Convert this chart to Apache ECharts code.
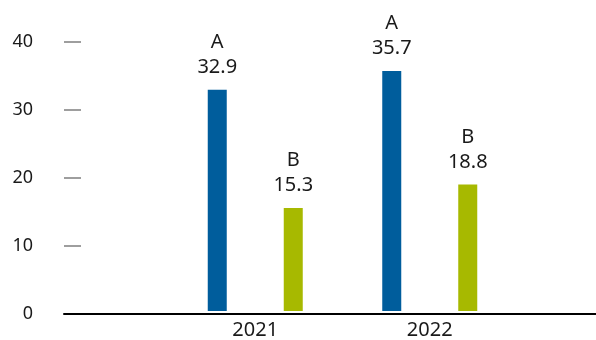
<!DOCTYPE html>
<html>
<head>
<meta charset="utf-8">
<script src="https://cdn.jsdelivr.net/npm/echarts@6/dist/echarts.min.js"></script>
<style>
  html, body { margin: 0; padding: 0; background: #fff; }
  #chart { width: 596px; height: 340px; }
</style>
</head>
<body>
<div id="chart"></div>
<script>
const years = ['2021', '2022'];
const seriesA = [32.9, 35.7];
const seriesB = [15.3, 18.8];
const yTicks = [0, 10, 20, 30, 40];

const FONT = 'Noto Sans';
const TEXT = '#1a1a1a';

const chart = echarts.init(document.getElementById('chart'), null, { renderer: 'canvas' });

function barLabel(name) {
  return {
    show: true,
    position: 'top',
    distance: 10,
    fontFamily: FONT,
    fontSize: 20,
    lineHeight: 25,
    color: TEXT,
    formatter: p => name + '\n' + p.value
  };
}

chart.setOption({
  animation: false,
  // grid 0 carries the value axis and the full-width baseline,
  // grid 1 holds the two year groups
  grid: [
    { left: 64, right: 0, top: 42, bottom: 26 },
    { left: 168, right: 79, top: 42, bottom: 26 }
  ],
  xAxis: [
    {
      gridIndex: 0, type: 'category', data: [''],
      axisLine: { show: true, lineStyle: { color: '#000', width: 2 } },
      axisTick: { show: false }, axisLabel: { show: false }
    },
    {
      gridIndex: 1, type: 'category', data: years,
      axisLine: { show: false }, axisTick: { show: false },
      axisLabel: { margin: 9, fontFamily: FONT, fontSize: 20, color: TEXT }
    }
  ],
  yAxis: [
    {
      gridIndex: 0, type: 'value',
      min: yTicks[0], max: yTicks[yTicks.length - 1], interval: 10,
      axisLine: { show: false },
      axisTick: {
        show: true, inside: true, length: 17,
        customValues: yTicks.slice(1),
        lineStyle: { color: '#7f7f7f', width: 1.5 }
      },
      splitLine: { show: false },
      axisLabel: { margin: 31, fontFamily: FONT, fontSize: 18, color: TEXT }
    },
    {
      gridIndex: 1, type: 'value',
      min: yTicks[0], max: yTicks[yTicks.length - 1], interval: 10,
      show: false, splitLine: { show: false }
    }
  ],
  series: [
    {
      name: 'A', type: 'bar', xAxisIndex: 1, yAxisIndex: 1,
      data: seriesA, barWidth: 19, barGap: '300%',
      itemStyle: { color: '#005d9c' },
      label: barLabel('A')
    },
    {
      name: 'B', type: 'bar', xAxisIndex: 1, yAxisIndex: 1,
      data: seriesB, barWidth: 19, barGap: '300%',
      itemStyle: { color: '#a7b900' },
      label: barLabel('B')
    }
  ]
});
</script>
</body>
</html>
